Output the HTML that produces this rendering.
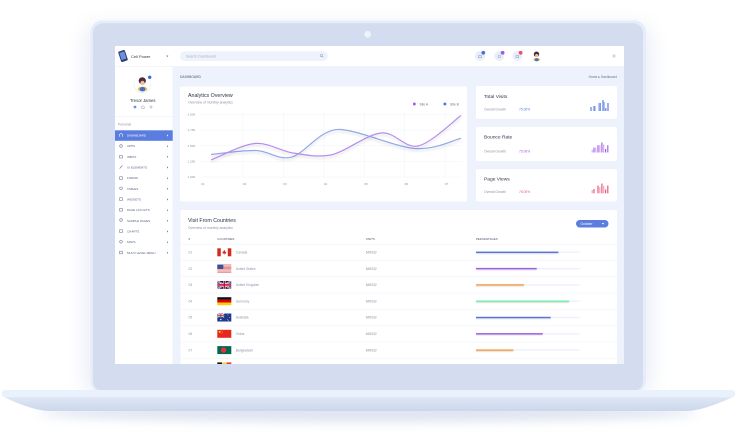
<!DOCTYPE html>
<html><head><meta charset="utf-8"><style>
html,body{margin:0;padding:0;background:#fff;width:737px;height:441px;overflow:hidden}
svg{display:block}
text{font-family:"Liberation Sans",Arial,sans-serif}
</style></head><body>
<svg width="737" height="441" viewBox="0 0 737 441" xmlns="http://www.w3.org/2000/svg">
<defs>
<filter id="blur12" x="-20%" y="-20%" width="140%" height="140%"><feGaussianBlur stdDeviation="10"/></filter>
<filter id="blur6" x="-20%" y="-100%" width="140%" height="300%"><feGaussianBlur stdDeviation="5"/></filter>
<filter id="ls" x="-5%" y="-20%" width="110%" height="150%"><feDropShadow dx="0" dy="2" stdDeviation="1.2" flood-color="#000" flood-opacity="0.13"/></filter>
<filter id="bs" x="-5%" y="-200%" width="110%" height="600%"><feDropShadow dx="0" dy="0.8" stdDeviation="0.6" flood-color="#000" flood-opacity="0.18"/></filter>
<filter id="av" x="-50%" y="-50%" width="200%" height="200%"><feDropShadow dx="0" dy="0.5" stdDeviation="0.8" flood-color="#8090b0" flood-opacity="0.35"/></filter>
<linearGradient id="baseG" x1="0" y1="0" x2="0" y2="1"><stop offset="0" stop-color="#dfe7f5"/><stop offset="1" stop-color="#ccd7eb"/></linearGradient>
<clipPath id="scr"><rect x="115" y="46" width="509" height="318"/></clipPath>
</defs>

<!-- shadows -->
<rect x="85" y="25" width="566" height="370" rx="14" fill="#dfe6f3" filter="url(#blur12)" opacity="0.7"/>
<ellipse cx="368" cy="413" rx="330" ry="9" fill="#c9d3e6" filter="url(#blur6)" opacity="0.6"/>

<!-- bezel -->
<rect x="90.5" y="20.5" width="555.5" height="372" rx="12" fill="#e6edf8"/>
<rect x="93" y="23.3" width="550" height="368" rx="10" fill="#d3ddef"/>
<circle cx="367.7" cy="34.3" r="3.4" fill="#eef3fb"/>

<!-- base -->
<path d="M4,397 L733,397 C720,403 700,411 686,411 L50,411 C36,411 16,403 4,397 Z" fill="url(#baseG)"/>
<rect x="1.7" y="390" width="733.6" height="7.3" rx="3.6" fill="#e9f1fc"/>

<!-- screen -->
<g clip-path="url(#scr)">
<rect x="115" y="46" width="509" height="318" fill="#edf2fc"/>

<!-- sidebar -->
<rect x="115" y="46" width="57.5" height="318" fill="#fff"/>
<line x1="115" y1="66.5" x2="624" y2="66.5" stroke="#e6ebf4" stroke-width="0.5"/>
<line x1="115" y1="116.7" x2="172.5" y2="116.7" stroke="#eef1f6" stroke-width="0.6"/>
<!-- logo -->
<g transform="rotate(-18 123 56)">
<rect x="119.5" y="50.5" width="7" height="11" rx="1.2" fill="#2d3f70"/>
<rect x="120.5" y="52" width="5" height="7.5" fill="#6d8fdc"/>
</g>
<text x="131" y="57.8" font-size="4" fill="#2f3545">Cell Power</text>
<path d="M166.3,55.6 L168.3,55.6 L167.3,57 Z" fill="#555"/>
<!-- avatar -->
<circle cx="142.5" cy="84" r="8" fill="#fff" filter="url(#av)"/>
<circle cx="142.3" cy="80.8" r="3.6" fill="#4b2c3d"/>
<circle cx="142.5" cy="83" r="2.2" fill="#f0bfa0"/>
<ellipse cx="142.5" cy="89" rx="4.8" ry="2.4" fill="#f2c14e"/>
<ellipse cx="142.5" cy="89.2" rx="2.8" ry="2.2" fill="#3f6fd0"/>
<circle cx="149.7" cy="77.3" r="1.7" fill="#3d66e0"/>
<text x="142.7" y="102" font-size="4.2" fill="#2f3545" text-anchor="middle">Trevor James</text>
<circle cx="135" cy="107" r="1.4" fill="#6f8ee8"/>
<path d="M141.6,108.2 L141.6,106.8 L143,105.6 L144.4,106.8 L144.4,108.2 Z" fill="none" stroke="#8a93a6" stroke-width="0.5"/>
<circle cx="151" cy="107" r="1.1" fill="none" stroke="#8a93a6" stroke-width="0.5"/>
<text x="118" y="125.3" font-size="3.3" fill="#8b93a6">Personal</text>
<rect x="115" y="130.3" width="57.7" height="10.5" fill="#5b7de0"/>
<g font-size="3" fill="#56637f">
<text x="127" y="136.5" fill="#fff">DASHBOARD</text>
<text x="127" y="147.2">APPS</text>
<text x="127" y="157.8">INBOX</text>
<text x="127" y="168.5">UI ELEMENTS</text>
<text x="127" y="179.2">FORMS</text>
<text x="127" y="189.8">TABLES</text>
<text x="127" y="200.5">WIDGETS</text>
<text x="127" y="211.2">PAGE LAYOUTS</text>
<text x="127" y="221.8">SAMPLE PAGES</text>
<text x="127" y="232.5">CHARTS</text>
<text x="127" y="243.2">MAPS</text>
<text x="127" y="253.8">MULTI LEVEL MENU</text>
</g>
<g fill="none" stroke="#6b7690" stroke-width="0.55">
<path d="M119.3,136.8 L119.3,134.6 L121,133.3 L122.7,134.6 L122.7,136.8" stroke="#fff"/>
<circle cx="121" cy="146" r="1.3"/>
<rect x="119.6" y="155.5" width="2.8" height="2.5"/>
<path d="M119.6,168.5 L122.4,165.5"/>
<rect x="119.6" y="176.8" width="2.8" height="2.6"/>
<circle cx="121" cy="188.3" r="1.3"/>
<rect x="119.6" y="197.8" width="2.8" height="2.6"/>
<rect x="119.6" y="208.5" width="2.8" height="2.6"/>
<circle cx="121" cy="220" r="1.3"/>
<rect x="119.6" y="229.8" width="2.8" height="2.6"/>
<circle cx="121" cy="241.7" r="1.3"/>
<rect x="119.6" y="251.2" width="2.8" height="2.6"/>
</g>
<g fill="#6b7690">
<path d="M167,134.5 L168.3,135.5 L167,136.5Z" fill="#fff"/>
<path d="M167,145.2 L168.3,146.2 L167,147.2Z"/>
<path d="M167,155.8 L168.3,156.8 L167,157.8Z"/>
<path d="M167,166.5 L168.3,167.5 L167,168.5Z"/>
<path d="M167,177.2 L168.3,178.2 L167,179.2Z"/>
<path d="M167,187.8 L168.3,188.8 L167,189.8Z"/>
<path d="M167,198.5 L168.3,199.5 L167,200.5Z"/>
<path d="M167,209.2 L168.3,210.2 L167,211.2Z"/>
<path d="M167,219.8 L168.3,220.8 L167,221.8Z"/>
<path d="M167,230.5 L168.3,231.5 L167,232.5Z"/>
<path d="M167,241.2 L168.3,242.2 L167,243.2Z"/>
<path d="M167,251.8 L168.3,252.8 L167,253.8Z"/>
</g>

<!-- topbar -->
<rect x="172.5" y="46" width="451.5" height="20.3" fill="#fff"/>
<rect x="180" y="51.2" width="148" height="9.8" rx="4.9" fill="#edf2fb"/>
<text x="186" y="57.4" font-size="3.6" fill="#a7b0c2">Search Dashboard</text>
<circle cx="321.5" cy="55.6" r="1.2" fill="none" stroke="#7d879b" stroke-width="0.5"/>
<line x1="322.4" y1="56.5" x2="323.4" y2="57.5" stroke="#7d879b" stroke-width="0.5"/>
<circle cx="480" cy="56" r="5" fill="#e9effa"/>
<circle cx="499.3" cy="56" r="5" fill="#e9effa"/>
<circle cx="517.3" cy="56" r="5" fill="#e9effa"/>
<rect x="478.6" y="55.5" width="2.8" height="2.2" fill="none" stroke="#8a93a6" stroke-width="0.5"/>
<circle cx="499.3" cy="56.5" r="1.3" fill="none" stroke="#8a93a6" stroke-width="0.5"/>
<rect x="516" y="55.5" width="2.6" height="2.2" fill="none" stroke="#8a93a6" stroke-width="0.5"/>
<circle cx="483.3" cy="52.8" r="1.9" fill="#4a6fe0"/>
<circle cx="502.6" cy="52.8" r="1.9" fill="#9b5de5"/>
<circle cx="520.6" cy="52.8" r="1.9" fill="#e8506e"/>
<circle cx="536.5" cy="54.2" r="2.7" fill="#4b2c3d"/>
<circle cx="536.7" cy="55.6" r="1.6" fill="#f0bfa0"/>
<ellipse cx="536.7" cy="59.6" rx="3.4" ry="1.7" fill="#f2c14e"/>
<ellipse cx="536.7" cy="59.8" rx="1.9" ry="1.5" fill="#3f6fd0"/>
<g stroke="#9aa3b5" stroke-width="0.45"><line x1="612.6" y1="55" x2="615.4" y2="55"/><line x1="612.6" y1="56" x2="615.4" y2="56"/><line x1="612.6" y1="57" x2="615.4" y2="57"/></g>

<!-- breadcrumb -->
<text x="180" y="78" font-size="3.3" fill="#4a5368">DASHBOARD</text>
<text x="617" y="78" font-size="3.3" fill="#6b7487" text-anchor="end">Home ▸ Dashboard</text>

<!-- analytics card -->
<rect x="180" y="86.5" width="287" height="115" rx="2" fill="#fff"/>
<text x="188" y="97" font-size="5.3" fill="#2f3545">Analytics Overview</text>
<text x="188" y="103.3" font-size="3.4" fill="#8b93a6">Overview of monthly analytics</text>
<rect x="413" y="102.7" width="2.6" height="2.6" fill="#9d5ce8"/>
<text x="419.5" y="105.3" font-size="3.3" fill="#6b7487">Site A</text>
<rect x="443.6" y="102.7" width="2.6" height="2.6" fill="#4a6fe0"/>
<text x="450" y="105.3" font-size="3.3" fill="#6b7487">Site B</text>
<g stroke="#f0f3f8" stroke-width="0.5">
<line x1="200" y1="114.5" x2="462" y2="114.5"/><line x1="200" y1="130" x2="462" y2="130"/><line x1="200" y1="145.7" x2="462" y2="145.7"/><line x1="200" y1="161.3" x2="462" y2="161.3"/><line x1="200" y1="177" x2="462" y2="177"/>
<line x1="243" y1="112" x2="243" y2="178"/><line x1="283.5" y1="112" x2="283.5" y2="178"/><line x1="324" y1="112" x2="324" y2="178"/><line x1="364.3" y1="112" x2="364.3" y2="178"/><line x1="404.7" y1="112" x2="404.7" y2="178"/><line x1="445" y1="112" x2="445" y2="178"/>
</g>
<g font-size="3.1" fill="#8b93a6">
<text x="187.5" y="115.6">2,000</text><text x="187.5" y="131.1">1,750</text><text x="187.5" y="146.8">1,500</text><text x="187.5" y="162.4">1,250</text><text x="187.5" y="178.1">1,000</text>
</g>
<g font-size="3.1" fill="#8b93a6" text-anchor="middle">
<text x="203" y="185.2">01</text><text x="244.5" y="185.2">02</text><text x="285" y="185.2">03</text><text x="325.5" y="185.2">04</text><text x="366" y="185.2">05</text><text x="406.3" y="185.2">06</text><text x="446.5" y="185.2">07</text>
</g>
<path d="M211,154.5 C218.5,153.8 242.7,150 256,150.5 C269.3,151 276.8,160 291,157.3 C305.2,154 320.3,127.7 341,129.5 C361.7,131.3 395,147 415,148.5 C435,150 453.3,140 461,138.3" fill="none" stroke="#90a8ec" stroke-width="1.2" filter="url(#ls)"/>
<path d="M211,160 C218.3,157.25 241.3,144.7 255,143.5 C268.7,142.3 280.3,151.1 293,153 C305.7,154.9 316.3,157.5 331,155 C345.7,151.7 366.5,134.5 381,133 C395.5,131.5 404.7,148.9 418,146 C431.3,143.1 453.8,120.6 461,115.5" fill="none" stroke="#b68cf0" stroke-width="1.2" filter="url(#ls)"/>

<!-- right cards -->
<rect x="476" y="86" width="141" height="33" rx="2" fill="#fff"/>
<rect x="476" y="127" width="141" height="34" rx="2" fill="#fff"/>
<rect x="476" y="169" width="141" height="32.5" rx="2" fill="#fff"/>
<g font-size="4.9" fill="#2f3545">
<text x="484" y="97.8">Total Visits</text>
<text x="484" y="138.5">Bounce Rate</text>
<text x="484" y="180.5">Page Views</text>
</g>
<g font-size="3.3" fill="#8b93a6">
<text x="484" y="110.6">Overall Growth</text>
<text x="484" y="152.3">Overall Growth</text>
<text x="484" y="193.2">Overall Growth</text>
</g>
<g font-size="3.3">
<text x="519" y="110.6" fill="#5b7de0">75.00%</text>
<text x="519" y="152.3" fill="#a05be8">75.00%</text>
<text x="519" y="193.2" fill="#e8587e">75.00%</text>
</g>
<!-- mini bars -->
<g fill="#5f7fe4">
<rect x="590.4" y="107" width="1.2" height="4"/><rect x="592.9" y="106" width="1.2" height="5" opacity="0.55"/><rect x="594.2" y="106" width="1.2" height="5"/>
<rect x="598.3" y="103" width="1.2" height="8" opacity="0.55"/><rect x="599.6" y="103" width="1.2" height="8"/>
<rect x="602.4" y="100" width="1.2" height="11"/><rect x="603.7" y="102" width="1.2" height="9" opacity="0.55"/>
<rect x="605.2" y="108" width="1.2" height="3"/><rect x="607.4" y="103" width="1.2" height="8"/>
</g>
<g fill="#a665ea">
<rect x="591.6" y="149.8" width="1.2" height="2.7" opacity="0.55"/><rect x="593.4" y="147.7" width="1.2" height="4.8"/><rect x="595.2" y="147.7" width="1.2" height="4.8" opacity="0.55"/>
<rect x="597.4" y="145.2" width="1.2" height="7.3"/><rect x="599.2" y="145.2" width="1.2" height="7.3" opacity="0.55"/>
<rect x="601.3" y="142.5" width="1.2" height="10"/><rect x="603.1" y="144.5" width="1.2" height="8" opacity="0.55"/>
<rect x="605" y="149" width="1.2" height="3.5"/><rect x="607.2" y="145.2" width="1.2" height="7.3"/>
</g>
<g fill="#ea5a82">
<rect x="591.6" y="190" width="1.2" height="3.3" opacity="0.55"/><rect x="593.4" y="189" width="1.2" height="4.3"/>
<rect x="597.4" y="185.5" width="1.2" height="7.8"/><rect x="599.2" y="187" width="1.2" height="6.3" opacity="0.55"/>
<rect x="601.3" y="183.5" width="1.2" height="9.8"/><rect x="603.1" y="186" width="1.2" height="7.3" opacity="0.55"/>
<rect x="605" y="189.5" width="1.2" height="3.8"/><rect x="607.2" y="185.5" width="1.2" height="7.8"/>
</g>

<!-- table card -->
<rect x="180.5" y="210" width="436.5" height="170" rx="2" fill="#fff"/>
<text x="188" y="221.8" font-size="5.3" fill="#2f3545">Visit From Countries</text>
<text x="188" y="229.1" font-size="3.4" fill="#8b93a6">Overview of monthly analytics</text>
<rect x="576" y="220" width="32.5" height="7.5" rx="3.75" fill="#5b7de0"/>
<text x="580.5" y="225" font-size="3.4" fill="#fff">October</text>
<path d="M601.8,223 L604.2,223 L603,224.5Z" fill="#fff"/>
<g font-size="2.9" fill="#4a5368">
<text x="188.5" y="240">#</text><text x="217.3" y="240">COUNTRIES</text><text x="365.7" y="240">VISITS</text><text x="476" y="240">PERCENTAGES</text>
</g>
<g stroke="#eef1f6" stroke-width="0.5">
<line x1="180.5" y1="244.3" x2="617" y2="244.3"/><line x1="180.5" y1="260.5" x2="617" y2="260.5"/><line x1="180.5" y1="276.8" x2="617" y2="276.8"/><line x1="180.5" y1="293.1" x2="617" y2="293.1"/><line x1="180.5" y1="309.4" x2="617" y2="309.4"/><line x1="180.5" y1="325.7" x2="617" y2="325.7"/><line x1="180.5" y1="342" x2="617" y2="342"/><line x1="180.5" y1="358.3" x2="617" y2="358.3"/>
</g>
<g font-size="3.3" fill="#8b93a6">
<text x="188.5" y="253.5">01</text><text x="188.5" y="269.8">02</text><text x="188.5" y="286.1">03</text><text x="188.5" y="302.4">04</text><text x="188.5" y="318.7">05</text><text x="188.5" y="335">06</text><text x="188.5" y="351.3">07</text>
<text x="235.7" y="253.5">Canada</text><text x="235.7" y="269.8">United States</text><text x="235.7" y="286.1">United Kingdom</text><text x="235.7" y="302.4">Germany</text><text x="235.7" y="318.7">Australia</text><text x="235.7" y="335">China</text><text x="235.7" y="351.3">Bangladesh</text>
<text x="365.7" y="253.5">645032</text><text x="365.7" y="269.8">645032</text><text x="365.7" y="286.1">645032</text><text x="365.7" y="302.4">645032</text><text x="365.7" y="318.7">645032</text><text x="365.7" y="335">645032</text><text x="365.7" y="351.3">645032</text>
</g>
<!-- flags -->
<!-- Canada -->
<rect x="217.3" y="248.3" width="14" height="8" fill="#fff"/>
<rect x="217.3" y="248.3" width="3.5" height="8" fill="#d52b1e"/><rect x="227.8" y="248.3" width="3.5" height="8" fill="#d52b1e"/>
<path d="M224.3,249.8 L225.5,252 L226.3,251.6 L225.8,253.7 L224.5,253.4 L224.5,254.9 L224.1,254.9 L224.1,253.4 L222.8,253.7 L222.3,251.6 L223.1,252Z" fill="#d52b1e"/>
<!-- US -->
<rect x="217.3" y="264.6" width="14" height="8" fill="#fff"/>
<g fill="#d9534f"><rect x="217.3" y="264.6" width="14" height="0.62"/><rect x="217.3" y="265.84" width="14" height="0.62"/><rect x="217.3" y="267.08" width="14" height="0.62"/><rect x="217.3" y="268.32" width="14" height="0.62"/><rect x="217.3" y="269.56" width="14" height="0.62"/><rect x="217.3" y="270.8" width="14" height="0.62"/><rect x="217.3" y="272.04" width="14" height="0.56"/></g>
<rect x="217.3" y="264.6" width="6" height="4.3" fill="#3c4f9c"/>
<!-- UK -->
<svg x="217.3" y="280.9" width="14" height="8" viewBox="0 0 60 30" preserveAspectRatio="none">
<rect width="60" height="30" fill="#012169"/>
<path d="M0,0 L60,30 M60,0 L0,30" stroke="#fff" stroke-width="6"/>
<path d="M0,0 L60,30 M60,0 L0,30" stroke="#C8102E" stroke-width="2"/>
<path d="M30,0 V30 M0,15 H60" stroke="#fff" stroke-width="10"/>
<path d="M30,0 V30 M0,15 H60" stroke="#C8102E" stroke-width="6"/>
</svg>
<!-- Germany -->
<rect x="217.3" y="297.2" width="14" height="2.67" fill="#111"/>
<rect x="217.3" y="299.87" width="14" height="2.67" fill="#dd0000"/>
<rect x="217.3" y="302.54" width="14" height="2.66" fill="#ffce00"/>
<!-- Australia -->
<rect x="217.3" y="313.5" width="14" height="8" fill="#1f3a8a"/>
<svg x="217.3" y="313.5" width="7" height="4" viewBox="0 0 60 30" preserveAspectRatio="none">
<path d="M0,0 L60,30 M60,0 L0,30" stroke="#fff" stroke-width="6"/>
<path d="M30,0 V30 M0,15 H60" stroke="#fff" stroke-width="10"/>
<path d="M30,0 V30 M0,15 H60" stroke="#C8102E" stroke-width="6"/>
</svg>
<g fill="#fff"><circle cx="220.8" cy="319.5" r="0.7"/><circle cx="228" cy="315" r="0.4"/><circle cx="229.5" cy="317.5" r="0.4"/><circle cx="227.5" cy="319.8" r="0.4"/><circle cx="228.6" cy="320.6" r="0.35"/></g>
<!-- China -->
<rect x="217.3" y="329.8" width="14" height="8" fill="#e6281e"/>
<circle cx="219.7" cy="331.9" r="1" fill="#ffde00"/>
<g fill="#ffde00"><circle cx="221.8" cy="330.8" r="0.3"/><circle cx="222.4" cy="331.7" r="0.3"/><circle cx="222.4" cy="332.8" r="0.3"/><circle cx="221.8" cy="333.6" r="0.3"/></g>
<!-- Bangladesh -->
<rect x="217.3" y="346.1" width="14" height="8" fill="#006a4e"/>
<circle cx="223.6" cy="350.1" r="2.6" fill="#f42a41"/>
<!-- Belgium -->
<rect x="217.3" y="362.4" width="4.67" height="8" fill="#111"/>
<rect x="221.97" y="362.4" width="4.67" height="8" fill="#fdda24"/>
<rect x="226.64" y="362.4" width="4.66" height="8" fill="#ef3340"/>
<!-- percentage bars -->
<g fill="#edf1fa">
<rect x="476" y="251.6" width="103.5" height="1.4"/><rect x="476" y="267.9" width="103.5" height="1.4"/><rect x="476" y="284.2" width="103.5" height="1.4"/><rect x="476" y="300.5" width="103.5" height="1.4"/><rect x="476" y="316.8" width="103.5" height="1.4"/><rect x="476" y="333.1" width="103.5" height="1.4"/><rect x="476" y="349.4" width="103.5" height="1.4"/>
</g>
<g filter="url(#bs)">
<rect x="476" y="251.6" width="82.3" height="1.4" fill="#5574de"/>
<rect x="476" y="267.9" width="60.7" height="1.4" fill="#a05be8"/>
<rect x="476" y="284.2" width="48" height="1.4" fill="#f4a04a"/>
<rect x="476" y="300.5" width="93" height="1.4" fill="#6ff0a8"/>
<rect x="476" y="316.8" width="74.7" height="1.4" fill="#5574de"/>
<rect x="476" y="333.1" width="66.7" height="1.4" fill="#a05be8"/>
<rect x="476" y="349.4" width="37.3" height="1.4" fill="#f4a04a"/>
</g>
</g>
</svg>
</body></html>
